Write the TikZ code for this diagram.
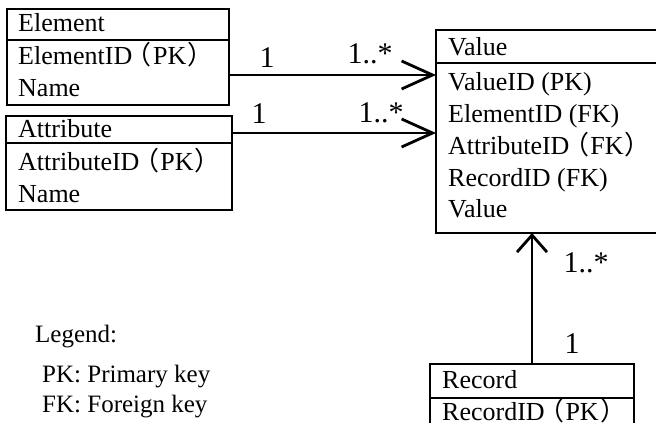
\documentclass[tikz,border=0pt]{standalone}
\usepackage{fontspec}
\setmainfont{Liberation Serif}
\newfontfamily\cjkfont{Noto Sans CJK JP}[RawFeature=+halt]
\usetikzlibrary{arrows.meta, positioning}
\newcommand{\fwl}{\hspace{0.25em}{\cjkfont （}\hspace{0.05em}}
\newcommand{\fwr}{\hspace{0.05em}{\cjkfont ）}}
\tikzstyle{box} = [draw, line width=1.6pt, anchor=north west, inner sep=0pt, outer sep=0pt]
\tikzstyle{field} = [anchor=base west, inner sep=0pt, font=\fontsize{26}{31}\selectfont]
\tikzstyle{mult} = [anchor=base, inner sep=0pt, font=\fontsize{30}{36}\selectfont]
\tikzstyle{legend} = [anchor=base west, inner sep=0pt, font=\fontsize{25}{30}\selectfont]
\tikzstyle{link} = [line width=2.8pt, -{Straight Barb[length=31pt,width=28pt]}]

\begin{document}
\begin{tikzpicture}[x=1pt, y=-1pt]
        \useasboundingbox (0,0) rectangle (656,423);
        \clip (0,0) rectangle (656,423);

        % Element
        \node (elemhead) [box, minimum width=222pt, minimum height=31pt] at (7,9) {};
        \node (elembody) [box, minimum width=222pt, minimum height=65pt, below=0pt of elemhead] {};
        \node (elemt) [field] at (18,31) {Element};
        \node (elemf1) [field] at (18,64) {ElementID\fwl PK\fwr};
        \node (elemf2) [field] at (18,96) {Name};

        % Attribute
        \node (attrhead) [box, minimum width=226pt, minimum height=27pt] at (6,116) {};
        \node (attrbody) [box, minimum width=226pt, minimum height=67pt, below=0pt of attrhead] {};
        \node (attrt) [field] at (18,137) {Attribute};
        \node (attrf1) [field] at (18,170) {AttributeID\fwl PK\fwr};
        \node (attrf2) [field] at (18,202) {Name};

        % Value
        \node (valhead) [box, minimum width=230pt, minimum height=33pt] at (436,30) {};
        \node (valbody) [box, minimum width=230pt, minimum height=170pt, below=0pt of valhead] {};
        \node (valt) [field] at (448,55) {Value};
        \node (valf1) [field] at (448,90) {ValueID (PK)};
        \node (valf2) [field] at (448,122) {ElementID (FK)};
        \node (valf3) [field] at (448,154) {AttributeID\fwl FK\fwr};
        \node (valf4) [field] at (448,186) {RecordID (FK)};
        \node (valf5) [field] at (448,217) {Value};

        % Record
        \node (rechead) [box, minimum width=204pt, minimum height=34pt] at (430,364) {};
        \node (recbody) [box, minimum width=204pt, minimum height=50pt, below=0pt of rechead] {};
        \node (rect) [field] at (442,388) {Record};
        \node (recf1) [field] at (442,420) {RecordID\fwl PK\fwr};

        % relations
        \draw [link] ([yshift=-2.5pt]elembody.east) -- ([yshift=-2.5pt]elembody.east -| valbody.west);
        \node (m1a) [mult] at (267,67) {1};
        \node (m1b) [mult] at (370,63) {1..*};
        \draw [link] ([yshift=-3.5pt]attrhead.east) -- ([yshift=-3.5pt]attrhead.east -| valbody.west);
        \node (m2a) [mult] at (259,123) {1};
        \node (m2b) [mult] at (381,122) {1..*};
        \draw [link, -{Straight Barb[length=17pt,width=30pt]}] (rechead.north) -- (rechead.north |- valbody.south);
        \node (m3b) [mult] at (586,272) {1..*};
        \node (m3a) [mult] at (572,353) {1};

        % legend
        \node (legt) [legend] at (35,342) {Legend:};
        \node (leg1) [legend] at (42,382) {PK: Primary key};
        \node (leg2) [legend] at (42,412) {FK: Foreign key};
      \end{tikzpicture}
\end{document}
